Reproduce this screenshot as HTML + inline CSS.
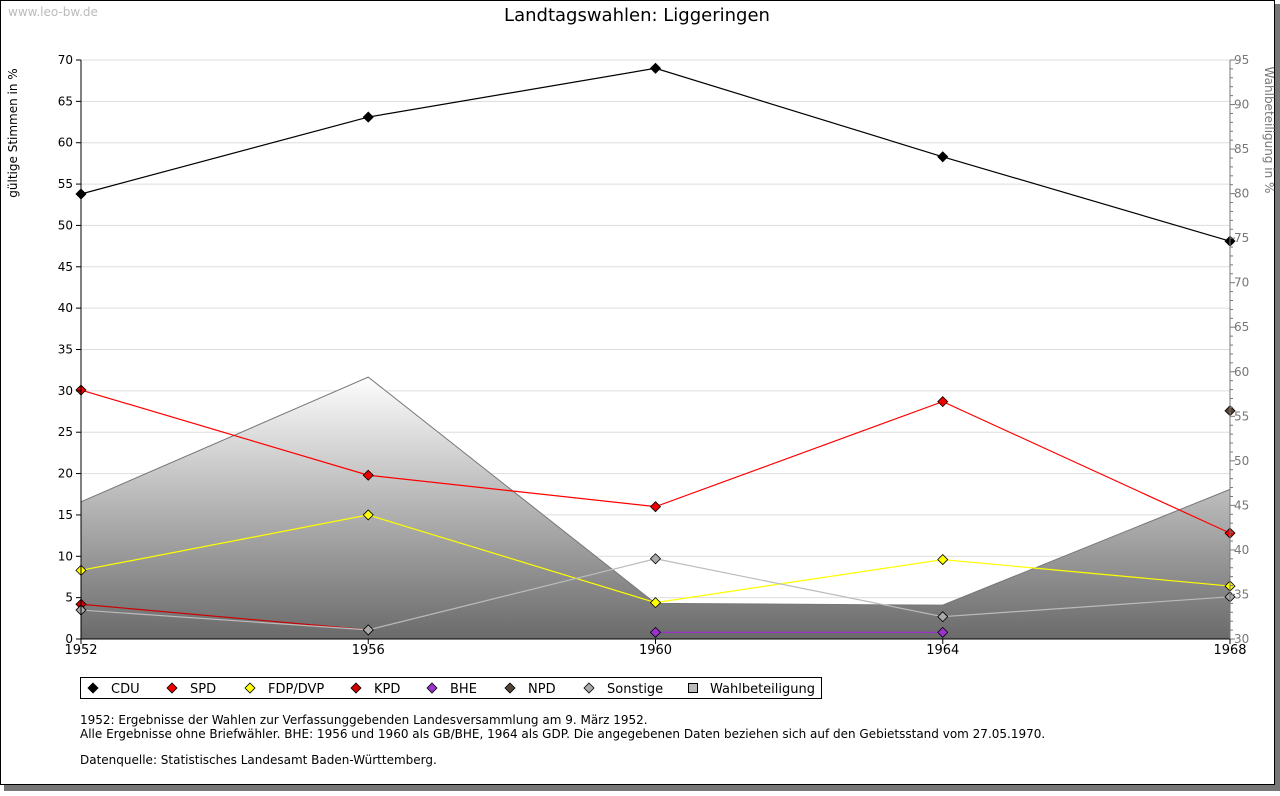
<!DOCTYPE html>
<html><head><meta charset="utf-8"><style>
body{margin:0;background:#fff;font-family:"Liberation Sans","DejaVu Sans",sans-serif;}
svg text{font-family:"DejaVu Sans","Liberation Sans",sans-serif;}
</style></head><body>
<svg id="c" width="1280" height="791" xmlns="http://www.w3.org/2000/svg">
<defs><linearGradient id="g" x1="0" y1="0" x2="0" y2="1"><stop offset="0" stop-color="#fdfdfd"/><stop offset="1" stop-color="#6a6a6a"/></linearGradient></defs>
<rect x="4" y="4" width="1276" height="787" fill="#777"/>
<rect x="0.5" y="0.5" width="1274" height="784" fill="#fff" stroke="#000"/>
<text x="8" y="16" font-size="12" fill="#bbb">www.leo-bw.de</text>
<text x="637" y="21" font-size="18" text-anchor="middle">Landtagswahlen: Liggeringen</text>
<text transform="translate(17,133) rotate(-90)" font-size="12" text-anchor="middle">gültige Stimmen in %</text>
<text transform="translate(1265,130) rotate(90)" font-size="12" fill="#777" text-anchor="middle">Wahlbeteiligung in %</text>
<g id="grid"></g><g id="area"></g><g id="lines"></g><g id="axes"></g>
<g>
<rect x="80.5" y="677.5" width="741" height="21" fill="#fff" stroke="#000"/>
<g id="leg"></g></g>
<text x="80" y="724" font-size="12">1952: Ergebnisse der Wahlen zur Verfassunggebenden Landesversammlung am 9. März 1952.</text>
<text x="80" y="738" font-size="12">Alle Ergebnisse ohne Briefwähler. BHE: 1956 und 1960 als GB/BHE, 1964 als GDP. Die angegebenen Daten beziehen sich auf den Gebietsstand vom 27.05.1970.</text>
<text x="80" y="764" font-size="12">Datenquelle: Statistisches Landesamt Baden-Württemberg.</text>
</svg>
<script>
const years=[1952,1956,1960,1964,1968];
const cdu=[53.8,63.1,69.0,58.3,48.1];
const spd=[30.1,19.8,16.0,28.7,12.8];
const fdp=[8.3,15.0,4.4,9.6,6.4];
const kpd=[4.2,1.1,null,null,null];
const bhe=[null,null,0.8,0.8,null];
const npd=[null,null,null,null,27.6];
const sonst=[3.5,1.1,9.7,2.7,5.1];
const turnout=[45.4,59.4,34.0,33.8,46.8];
const leftTicks=[0,5,10,15,20,25,30,35,40,45,50,55,60,65,70];
const rightTicks=[30,35,40,45,50,55,60,65,70,75,80,85,90,95];
const NS="http://www.w3.org/2000/svg";
const X0=81,X1=1230,Y0=639,Y1=60;
const xs=i=>X0+(X1-X0)*i/(years.length-1);
const yl=v=>Y0-(Y0-Y1)*v/70;
const yr=v=>Y0-(Y0-Y1)*(v-30)/65;
function mk(t,a,p){const e=document.createElementNS(NS,t);for(const k in a)e.setAttribute(k,a[k]);p.appendChild(e);return e;}
const grid=document.getElementById('grid'),axes=document.getElementById('axes'),area=document.getElementById('area'),lines=document.getElementById('lines'),leg=document.getElementById('leg');
leftTicks.forEach(v=>{const y=yl(v);
 if(v>0){const g=mk('line',{x1:X0,x2:X1,y1:y,y2:y,stroke:'#ddd'},grid);}
 mk('line',{x1:X0-5,x2:X0,y1:y,y2:y,stroke:'#000'},axes);
 const t=mk('text',{x:X0-8,y:y+4,'font-size':12,'text-anchor':'end'},axes);t.textContent=v;
 });
for(let v=30;v<=95;v++){const y=yr(v);mk('line',{x1:X1,x2:X1+(v%5?3:5),y1:y,y2:y,stroke:'#777'},axes);}
rightTicks.forEach(v=>{const t=mk('text',{x:X1+4,y:yr(v)+4,'font-size':12,fill:'#777'},axes);t.textContent=v;
 });
years.forEach((yv,i)=>{mk('line',{x1:xs(i),x2:xs(i),y1:Y0,y2:Y0+5,stroke:'#000'},axes);
 const t=mk('text',{x:xs(i),y:Y0+15,'font-size':13,'text-anchor':'middle'},axes);t.textContent=yv;
 });
mk('line',{x1:X0,x2:X0,y1:Y1,y2:Y0,stroke:'#000'},axes);
mk('line',{x1:X0,x2:X1,y1:Y0,y2:Y0,stroke:'#000'},axes);
mk('line',{x1:X1,x2:X1,y1:Y1,y2:Y0,stroke:'#777'},axes);
let d='M'+X0+','+Y0;turnout.forEach((v,i)=>d+=' L'+xs(i)+','+yr(v));d+=' L'+X1+','+Y0+'Z';
const ar=mk('path',{d:d,fill:'url(#g)',stroke:'#777'},area);

const series=[['cdu',cdu,'#000','#000'],['spd',spd,'#f00','#e00'],['fdp-dvp',fdp,'#ff0','#ff0'],['kpd',kpd,'#c00','#c00'],['bhe',bhe,'#93c','#93c'],['npd',npd,'#543','#543'],['sonstige',sonst,'#bbb','#aaa']];
series.forEach(([n,vals,lc,fc])=>{let pts=[];vals.forEach((v,i)=>{if(v!=null)pts.push([xs(i),yl(v)]);});
 if(pts.length>1){const l=mk('polyline',{points:pts.map(p=>p.join(',')).join(' '),fill:'none',stroke:lc,'stroke-width':1.2},lines);
 }
 pts.forEach(p=>{const m=mk('path',{d:`M${p[0]},${p[1]-5} L${p[0]+5},${p[1]} L${p[0]},${p[1]+5} L${p[0]-5},${p[1]}Z`,fill:fc,stroke:'#000','stroke-width':0.8},lines);
 });});
const legItems=[['CDU','#000',93],['SPD','#e00',172],['FDP/DVP','#ff0',250],['KPD','#c00',356],['BHE','#93c',432],['NPD','#543',510],['Sonstige','#aaa',589]];
legItems.forEach(([n,c,x])=>{const m=mk('path',{d:`M${x},${683} L${x+5},${688} L${x},${693} L${x-5},${688}Z`,fill:c,stroke:'#000','stroke-width':0.8},leg);
 
 const t=mk('text',{x:x+18,y:693,'font-size':13},leg);t.textContent=n;
 });
const sq=mk('rect',{x:688.5,y:683.5,width:9,height:9,fill:'#bbb',stroke:'#000'},leg);

const tt=mk('text',{x:710,y:693,'font-size':13},leg);tt.textContent='Wahlbeteiligung';

</script>
</body></html>
